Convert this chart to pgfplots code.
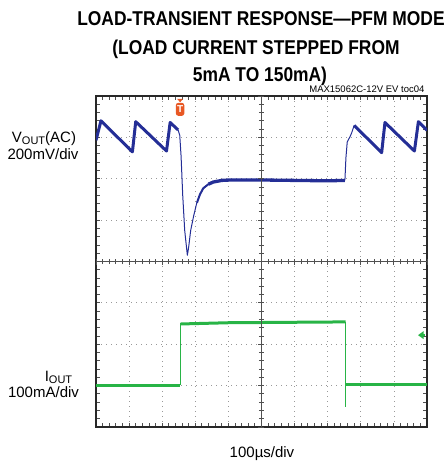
\documentclass[border=0pt]{standalone}
\usepackage{pgfplots}
\pgfplotsset{compat=1.18}
\usepackage{graphicx}
\usepackage{fontspec}
\setmainfont{Liberation Sans}

\definecolor{vtrace}{RGB}{36,46,150}
\definecolor{itrace}{RGB}{40,180,70}
\definecolor{frame}{RGB}{40,40,40}
\definecolor{tickc}{RGB}{80,80,80}
\definecolor{trig}{RGB}{232,88,36}

\begin{document}
\begin{tikzpicture}
\path[use as bounding box] (0pt,0pt) rectangle (446pt,461pt);

% scope screen with the two traces
\begin{axis}[
    at={(96pt,34pt)}, anchor=south west,
    scale only axis, width=331pt, height=331pt,
    xmin=0, xmax=10, ymin=0, ymax=8,
    xtick={0,...,10}, ytick={0,...,8},
    minor x tick num=4, minor y tick num=4,
    xticklabels={}, yticklabels={},
    tick align=inside,
    major tick length=4pt, minor tick length=4pt,
    tick style={tickc, line width=0.9pt},
    grid=major,
    major grid style={gray!80, line width=0.8pt, dash pattern=on 0.8pt off 4.2pt},
    axis line style={frame, line width=1.8pt},
]
% VOUT (AC), 200mV/div
\addplot[vtrace, line width=3pt, line join=round] coordinates {
    (0,6.93) (0.15,7.40) (1.10,6.65) (1.20,7.38) (2.13,6.67) (2.24,7.36)
    (2.32,7.30) (2.48,7.18)
};
\addplot[vtrace, line width=1pt, line join=round] coordinates {
    (2.48,7.18) (2.53,7.05) (2.57,6.55) (2.62,5.60) (2.68,4.75) (2.76,4.15)
    (2.80,4.35) (2.86,4.75) (2.95,5.10) (3.04,5.40) (3.14,5.62) (3.24,5.77)
    (3.40,5.87) (3.54,5.93) (3.80,5.96) (4.05,5.97)
};
\addplot[vtrace, line width=2pt] coordinates {
    (3.05,5.42) (3.14,5.62) (3.24,5.77) (3.40,5.87)
};
\addplot[vtrace, line width=3.3pt] coordinates {
    (3.40,5.87) (3.54,5.92) (3.80,5.96) (4.05,5.97) (5.00,5.97) (6.00,5.96)
    (7.00,5.95) (7.52,5.96)
};
\addplot[vtrace, line width=1pt] coordinates {
    (7.52,5.96) (7.55,6.50) (7.59,6.89) (7.67,7.01) (7.72,7.10) (7.80,7.29)
};
\addplot[vtrace, line width=3pt, line join=round] coordinates {
    (7.80,7.29) (8.63,6.63) (8.73,7.36) (9.62,6.67) (9.74,7.38) (10,7.17)
};
% IOUT, 100mA/div
\addplot[itrace, line width=3pt] coordinates {(0,1.01) (2.54,1.01)};
\addplot[itrace, line width=0.8pt] coordinates {(2.54,1.01) (2.54,2.52)};
\addplot[itrace, line width=3pt] coordinates {(2.56,2.49) (4,2.52) (7.54,2.54)};
\addplot[itrace, line width=0.8pt] coordinates {(7.54,2.54) (7.54,0.49)};
\addplot[itrace, line width=3pt] coordinates {(7.55,1.03) (10,1.03)};

% trigger marker and ground marker
\fill[trig] (axis cs:2.54,7.86) ++(-3pt,3pt) -- ++(6pt,0pt) -- ++(-3pt,-3.5pt) -- cycle;
\node[fill=trig, text=white, rounded corners=2.5pt, inner sep=0pt,
      minimum width=8.5pt, minimum height=13pt, anchor=north,
      font=\bfseries\fontsize{10}{10}\selectfont] at (axis cs:2.54,7.84) {T};
\fill[itrace] (axis cs:9.73,2.22) -- ++(5.5pt,4pt) -- ++(0pt,-8pt) -- cycle;
\draw[itrace, line width=2pt] (axis cs:9.80,2.22) -- (axis cs:9.95,2.22);
\end{axis}

% centre cross of the graticule, drawn on top
\begin{axis}[
    at={(96pt,34pt)}, anchor=south west,
    scale only axis, width=331pt, height=331pt,
    xmin=-5, xmax=5, ymin=-4, ymax=4,
    axis lines=middle,
    axis line style={-, tickc, line width=0.7pt},
    xtick={-5,...,5}, ytick={-4,...,4},
    minor x tick num=4, minor y tick num=4,
    xticklabels={}, yticklabels={},
    tick align=center,
    major tick length=6pt, minor tick length=5pt,
    tick style={tickc, line width=0.8pt},
]
\end{axis}

% title and labels
\node[anchor=base, font=\bfseries\fontsize{20}{24}\selectfont] at (261pt,435pt)
    {\scalebox{0.87}[1]{LOAD-TRANSIENT RESPONSE—PFM MODE}};
\node[anchor=base, font=\bfseries\fontsize{20}{24}\selectfont] at (256pt,406pt)
    {\scalebox{0.87}[1]{(LOAD CURRENT STEPPED FROM}};
\node[anchor=base, font=\bfseries\fontsize{20}{24}\selectfont] at (260pt,379pt)
    {\scalebox{0.87}[1]{5mA TO 150mA)}};
\node[anchor=base east, font=\fontsize{9.5}{11}\selectfont] at (428pt,368pt)
    {MAX15062C-12V EV toc04};
\node[anchor=base, font=\fontsize{15}{17}\selectfont] at (44pt,318pt)
    {V\raisebox{-2pt}{\fontsize{11}{11}\selectfont OUT}(AC)};
\node[anchor=base, font=\fontsize{15}{17}\selectfont] at (43pt,301pt) {200mV/div};
\node[anchor=base, font=\fontsize{15}{17}\selectfont] at (58.5pt,79pt)
    {I\raisebox{-2pt}{\fontsize{11}{11}\selectfont OUT}};
\node[anchor=base, font=\fontsize{15}{17}\selectfont] at (43.5pt,63pt) {100mA/div};
\node[anchor=base, font=\fontsize{15}{17}\selectfont] at (262pt,4pt) {100µs/div};
\end{tikzpicture}
\end{document}
